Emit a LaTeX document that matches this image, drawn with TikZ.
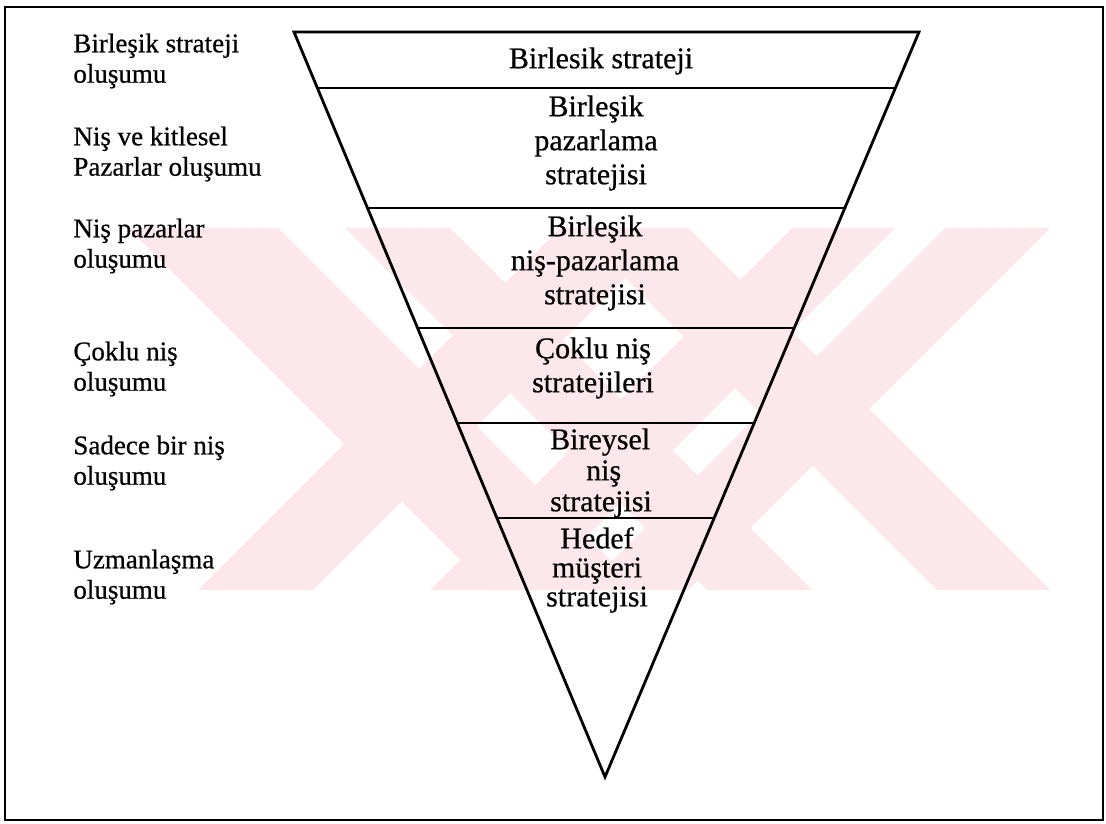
\documentclass[tikz,border=0pt]{standalone}
\usepackage{fontspec}
\setmainfont{Liberation Serif}[FakeBold=0.6]
\usetikzlibrary{calc}
\definecolor{wmpink}{RGB}{252,231,236}
\tikzset{
  outline/.style={line width=1.4pt, black},
  leftlabel/.style={anchor=west, align=left, inner sep=0pt,
    font=\fontsize{13.5}{15.2}\selectfont},
  stagelabel/.style={anchor=center, align=center, inner sep=0pt,
    font=\fontsize{15}{17}\selectfont},
  band/.style={fill=wmpink},
}
\begin{document}
\begin{tikzpicture}[x=0.5pt,y=-0.5pt]
\useasboundingbox (0,0) rectangle (1106,823);

% faint background emblem: crossing diagonal bands
\begin{scope}
  \clip (128,228) rectangle (1052,590);
  % bands falling to the right
  \foreach \a/\b in {128/278, 345/450, 575/688}{
    \fill[band] (\a,228) -- (\b,228) -- (\b+362,590) -- (\a+362,590) -- cycle;
  }
  % bands falling to the left
  \foreach \a/\b in {560/675, 792/895, 945/1050}{
    \fill[band] (\a,228) -- (\b,228) -- (\b-362,590) -- (\a-362,590) -- cycle;
  }
\end{scope}

% frame
\draw[line width=1pt] (5,7) rectangle (1103,820);

% funnel outline
\coordinate (TL) at (294,32);
\coordinate (TR) at (919,32);
\coordinate (A)  at (605,777);
\draw[outline, line join=miter] (TL) -- (TR) -- (A) -- cycle;

% dividing lines between the stages
\foreach \t in {0.0752,0.2362,0.3973,0.5248,0.6523}{
  \draw[outline] ($(TL)!\t!(A)$) -- ($(TR)!\t!(A)$);
}

% stage names inside the funnel
\node[stagelabel] (s1) at (601,61)  {Birlesik strateji};
\node[stagelabel] (s2) at (596,143) {Birleşik\\pazarlama\\stratejisi};
\node[stagelabel] (s3) at (595,263) {Birleşik\\niş-pazarlama\\stratejisi};
\node[stagelabel] (s4) at (593,368) {Çoklu niş\\stratejileri};
\node[stagelabel, align=left, font=\fontsize{15}{15.5}\selectfont] (s5) at (601,473)
  {\hspace*{0pt}Bireysel\\\hspace*{18pt}niş\\\hspace*{0pt}stratejisi};
\node[stagelabel, font=\fontsize{15}{14.5}\selectfont] (s6) at (597,570) {Hedef\\müşteri\\stratejisi};

% formation levels on the left
\node[leftlabel] (l1) at (73,61)  {Birleşik strateji\\oluşumu};
\node[leftlabel] (l2) at (73,154) {Niş ve kitlesel\\Pazarlar oluşumu};
\node[leftlabel] (l3) at (73,246) {Niş pazarlar\\oluşumu};
\node[leftlabel] (l4) at (73,369) {Çoklu niş\\oluşumu};
\node[leftlabel] (l5) at (73,463) {Sadece bir niş\\oluşumu};
\node[leftlabel] (l6) at (73,577) {Uzmanlaşma\\oluşumu};
\end{tikzpicture}
\end{document}
